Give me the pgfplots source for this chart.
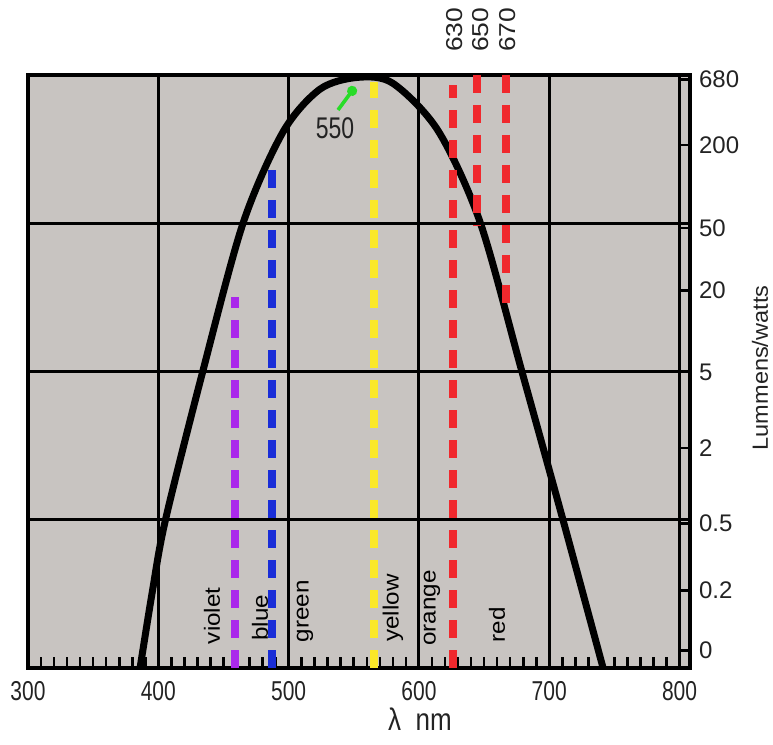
\documentclass[border=0pt]{standalone}
\usepackage{pgfplots}
\pgfplotsset{compat=1.18}
\usepackage{fontspec}
\setmainfont{Liberation Sans}
\usetikzlibrary{arrows.meta}
\definecolor{bg}{RGB}{200,196,193}
\definecolor{vio}{RGB}{170,40,235}
\definecolor{blu}{RGB}{25,45,215}
\definecolor{yel}{RGB}{250,232,40}
\definecolor{rd}{RGB}{240,40,45}
\definecolor{grn}{RGB}{40,220,40}
\definecolor{txt}{RGB}{35,35,35}
\newcommand{\vs}[1]{\scalebox{1}[1.3]{#1}}
\newcommand{\hs}[1]{\scalebox{1.1}[1]{#1}}
\begin{document}
\begin{tikzpicture}
\begin{axis}[
  scale only axis, width=331pt, height=296.5pt,
  xmin=300, xmax=808, ymin=0, ymax=10,
  axis background/.style={fill=bg},
  axis line style={line width=1.8pt},
  clip mode=individual,
  xtick={300,400,500,600,700,800},
  xticklabels={\vs{300},\vs{400},\vs{500},\vs{600},\vs{700},\vs{800}},
  minor x tick num=9,
  xtick pos=bottom,
  major tick length=5pt, minor tick length=5.5pt,
  every tick/.style={black, line width=1.3pt},
  xmajorgrids, major grid style={black, line width=1.5pt},
  ytick={0.30,1.31,2.44,3.71,4.99,6.37,7.42,8.82,9.92},
  yticklabels={0,0.2,0.5,2,5,20,50,200,680},
  ytick pos=right, yticklabel pos=right,
  extra y ticks={2.5,5.0,7.5}, extra y tick labels={},
  extra y tick style={grid=major},
  xticklabel style={font=\fontsize{10.5}{12}\selectfont, text=txt, yshift=-3pt},
  yticklabel style={font=\fontsize{12}{14}\selectfont, text=txt, xshift=1pt},
]
% luminous efficacy curve
\addplot[black, line width=3.5pt, smooth] coordinates {
 (386.0,0) (395.5,1.3) (405.5,2.5) (433.5,4.95) (465,7.5) (495.7,9.04) (524,9.76)
 (553,9.96) (580,9.86) (614.7,9.06) (646.9,7.52) (679,5.0) (710.5,2.5) (741.3,0)
};
% dashed colour lines
\addplot[vio, line width=4pt, dash pattern=on 9pt off 6pt] coordinates {(458.9,0) (458.9,6.26)};
\addplot[blu, line width=4pt, dash pattern=on 9pt off 6pt] coordinates {(487.3,0) (487.3,8.55)};
\addplot[yel, line width=4pt, dash pattern=on 9pt off 6pt] coordinates {(565.5,0) (565.5,9.88)};
\addplot[rd, line width=4pt, dash pattern=on 9pt off 6pt] coordinates {(626.2,0) (626.2,9.83)};
\addplot[rd, line width=4pt, dash pattern=on 9pt off 6pt] coordinates {(644.6,10) (644.6,7.47)};
\addplot[rd, line width=4pt, dash pattern=on 9pt off 6pt] coordinates {(666.8,10) (666.8,6.16)};
% green 550 pointer
\addplot[grn, line width=1.8pt, -{Circle[length=5pt]}] coordinates {(537.9,9.41) (551.0,9.80)};
\node[text=txt, font=\fontsize{11.5}{13}\selectfont] at (axis cs:535.6,9.11) {\vs{550}};
% band labels
\node[rotate=90, text=black, font=\fontsize{11}{13}\selectfont] at (axis cs:441.2,0.88) {\hs{violet}};
\node[rotate=90, text=black, font=\fontsize{11}{13}\selectfont] at (axis cs:478.1,0.85) {\hs{blue}};
\node[rotate=90, text=black, font=\fontsize{11}{13}\selectfont] at (axis cs:512.6,0.96) {\hs{green}};
\node[rotate=90, text=black, font=\fontsize{11}{13}\selectfont] at (axis cs:580.1,1.01) {\hs{yellow}};
\node[rotate=90, text=black, font=\fontsize{11}{13}\selectfont] at (axis cs:610.0,1.01) {\hs{orange}};
\node[rotate=90, text=black, font=\fontsize{11}{13}\selectfont] at (axis cs:659.9,0.73) {\hs{red}};
% top labels
\node[rotate=90, text=txt, font=\fontsize{11.5}{13}\selectfont] at (axis cs:627.0,10.76) {\scalebox{1.15}[1]{630}};
\node[rotate=90, text=txt, font=\fontsize{11.5}{13}\selectfont] at (axis cs:647.0,10.76) {\scalebox{1.15}[1]{650}};
\node[rotate=90, text=txt, font=\fontsize{11.5}{13}\selectfont] at (axis cs:667.7,10.76) {\scalebox{1.15}[1]{670}};
% axis titles
\node[text=txt, font=\fontsize{13}{15}\selectfont, inner sep=0pt] at (rel axis cs:0.592,-0.0860) {\scalebox{1}[1.2]{λ\ \ nm}};
\node[rotate=90, text=txt, font=\fontsize{11}{13}\selectfont] at (rel axis cs:1.1057,0.506) {\scalebox{1.07}[1]{Lummens/watts}};
\coordinate (bbsw) at (rel axis cs:-0.04230,-0.12985);
\coordinate (bbne) at (rel axis cs:1.12538,1.12648);
\end{axis}
\pgfresetboundingbox
\path (bbsw) rectangle (bbne);
\end{tikzpicture}
\end{document}
